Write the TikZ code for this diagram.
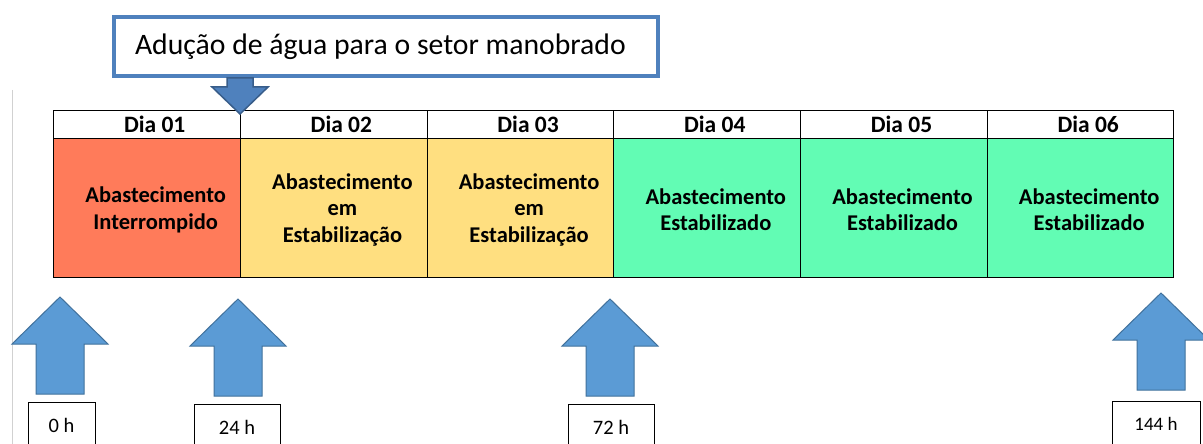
\documentclass[tikz,border=0pt]{standalone}
\usepackage{fontspec}
\setmainfont{Carlito}
\usetikzlibrary{positioning}

\definecolor{redcell}{HTML}{FF7B5A}
\definecolor{yellowcell}{HTML}{FFDF80}
\definecolor{greencell}{HTML}{62FCB4}
\definecolor{arrowblue}{HTML}{5B9BD5}
\definecolor{arrowedge}{HTML}{41719C}
\definecolor{boxblue}{HTML}{4F81BD}
\definecolor{darkblue}{HTML}{385D8A}

\tikzset{
  headcell/.style={draw=black, fill=white, minimum width=186.7pt, minimum height=28pt, inner sep=0pt, outer sep=0pt},
  bodycell/.style={draw=black, minimum width=186.7pt, minimum height=139.5pt, inner sep=0pt, outer sep=0pt},
  headtext/.style={font=\fontsize{23.5}{26}\selectfont\bfseries, xshift=8pt},
  bodytext/.style={font=\fontsize{22.5}{26.5}\selectfont\bfseries, align=center, xshift=9pt, yshift=-2pt},
  hourbox/.style={draw=black, fill=white, anchor=north, minimum height=46pt, inner sep=0pt, font=\fontsize{20.5}{24}\selectfont},
  callout/.style={draw=boxblue, line width=4pt, fill=white, minimum height=59pt, text width=502pt, inner xsep=21pt, align=flush left, font=\fontsize{29.7}{32}\selectfont},
  downarrow/.style={draw=darkblue, line width=1.5pt, fill=boxblue},
  uparrow/.pic={
    \draw[draw=arrowedge, line width=1pt, fill=arrowblue] (0,0) -- (48,47) -- (24,47) -- (24,97)
      -- (-24,97) -- (-24,47) -- (-48,47) -- cycle;
  }
}

\begin{document}
\begin{tikzpicture}[x=1pt, y=-1pt]
\clip (0,0) rectangle (1203,444);
\fill[white] (0,0) rectangle (1203,444);
\draw[black!18] (12,90) -- (12,444);

% header row
\node[headcell] (h1) at (146.7,124) {};
\node[headcell, right=0pt of h1] (h2) {};
\node[headcell, right=0pt of h2] (h3) {};
\node[headcell, right=0pt of h3] (h4) {};
\node[headcell, right=0pt of h4] (h5) {};
\node[headcell, right=0pt of h5] (h6) {};
\node[headtext] (d1) at (h1) {Dia 01};
\node[headtext] (d2) at (h2) {Dia 02};
\node[headtext] (d3) at (h3) {Dia 03};
\node[headtext] (d4) at (h4) {Dia 04};
\node[headtext] (d5) at (h5) {Dia 05};
\node[headtext] (d6) at (h6) {Dia 06};

% state row
\node[bodycell, fill=redcell, below=0pt of h1] (b1) {};
\node[bodycell, fill=yellowcell, below=0pt of h2] (b2) {};
\node[bodycell, fill=yellowcell, below=0pt of h3] (b3) {};
\node[bodycell, fill=greencell, below=0pt of h4] (b4) {};
\node[bodycell, fill=greencell, below=0pt of h5] (b5) {};
\node[bodycell, fill=greencell, below=0pt of h6] (b6) {};
\node[bodytext] (s1) at (b1) {Abastecimento\\Interrompido};
\node[bodytext] (s2) at (b2) {Abastecimento\\em\\Estabilização};
\node[bodytext] (s3) at (b3) {Abastecimento\\em\\Estabilização};
\node[bodytext] (s4) at (b4) {Abastecimento\\Estabilizado};
\node[bodytext] (s5) at (b5) {Abastecimento\\Estabilizado};
\node[bodytext] (s6) at (b6) {Abastecimento\\Estabilizado};

% callout
\node[callout] (title) at (386,46.5) {Adução de água para o setor manobrado};
\draw[downarrow] ([yshift=-4pt]h1.north east) -- ++(28,-27) -- ++(-15,0) -- ++(0,-9)
  -- ++(-26,0) -- ++(0,9) -- ++(-15,0) -- cycle;

% time marks
\pic at (60,297) {uparrow};
\pic at (238,299) {uparrow};
\pic at (610,299) {uparrow};
\pic at (1161,293) {uparrow};
\node[hourbox, minimum width=67pt] (t0) at (61.5,402) {0 h};
\node[hourbox, minimum width=86pt] (t24) at (237,404) {24 h};
\node[hourbox, minimum width=86pt] (t72) at (611,404) {72 h};
\node[hourbox, minimum width=88pt, font=\fontsize{19}{22}\selectfont] (t144) at (1156,401) {144 h};
\end{tikzpicture}
\end{document}
